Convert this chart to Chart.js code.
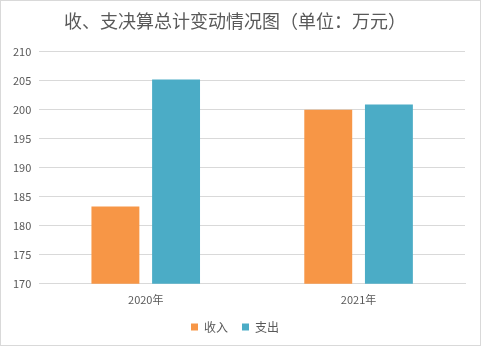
<!DOCTYPE html>
<html>
<head>
<meta charset="utf-8">
<script src="https://cdn.jsdelivr.net/npm/chart.js@4"></script>
<style>
  html, body { margin: 0; padding: 0; background: #fff; }
  #wrap { width: 481px; height: 346px; box-sizing: border-box; border: 1px solid #d9d9d9; }
</style>
</head>
<body>
<div id="wrap"><canvas id="myChart" width="479" height="344"></canvas></div>
<script>
// chart data
const years = ['2020年', '2021年'];
const income = [183.3, 200.0];
const spending = [205.2, 200.9];

const ctx = document.getElementById('myChart');
const font = "'Microsoft YaHei', 'Noto Sans CJK SC', sans-serif";

new Chart(ctx, {
  type: 'bar',
  data: {
    labels: years,
    datasets: [
      { label: '收入', data: income, backgroundColor: '#f79646' },
      { label: '支出', data: spending, backgroundColor: '#4bacc6' }
    ]
  },
  options: {
    responsive: false,
    animation: false,
    layout: { padding: { left: 4, right: 15, top: 4, bottom: 2 } },
    datasets: {
      bar: { categoryPercentage: 0.57, barPercentage: 0.79 }
    },
    plugins: {
      title: {
        display: true,
        text: '收、支决算总计变动情况图（单位：万元）',
        color: '#595959',
        font: { family: font, size: 18, weight: 'normal' },
        padding: { top: 5, bottom: 20 }
      },
      legend: {
        position: 'bottom',
        labels: {
          color: '#595959',
          font: { family: font, size: 12 },
          boxWidth: 7, boxHeight: 7,
          padding: 14
        }
      },
      tooltip: { enabled: false }
    },
    scales: {
      x: {
        grid: { display: false },
        border: { color: '#d9d9d9' },
        ticks: { color: '#595959', font: { family: font, size: 11 }, padding: 1 }
      },
      y: {
        min: 170,
        max: 210,
        ticks: { stepSize: 5, color: '#595959', font: { family: font, size: 11 }, padding: 8 },
        grid: { color: '#d9d9d9', drawTicks: false },
        border: { display: false }
      }
    }
  }
});
</script>
</body>
</html>
